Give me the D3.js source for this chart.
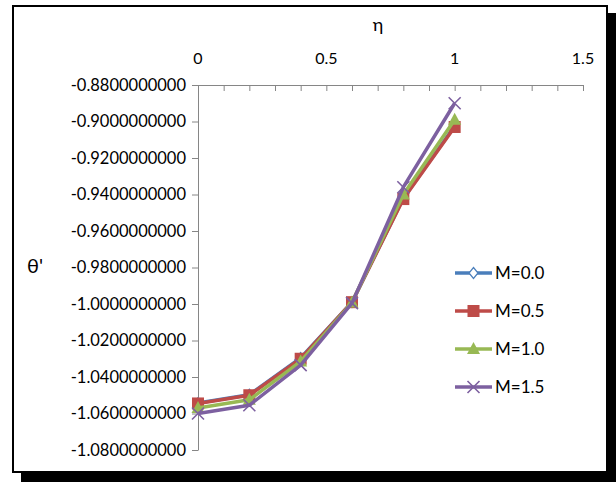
<!DOCTYPE html>
<html>
<head>
<meta charset="utf-8">
<script src="https://cdn.jsdelivr.net/npm/d3@7"></script>
<style>
  html, body { margin: 0; padding: 0; background: #fff; }
  svg { display: block; }
  text { font-family: Lato, "Liberation Sans", sans-serif; fill: #000; }
</style>
</head>
<body>
<svg id="chart" width="616" height="482"></svg>
<script>
// η positions along the plate
const etaValues = [0, 0.2, 0.4, 0.6, 0.8, 1.0];

// θ' for each magnetic parameter M
const seriesNames = ["M=0.0", "M=0.5", "M=1.0", "M=1.5"];
const thetaM00 = [-1.0543, -1.0497, -1.0296, -0.9990, -0.9420, -0.9025];
const thetaM05 = [-1.0545, -1.0500, -1.0300, -0.9990, -0.9425, -0.9030];
const thetaM10 = [-1.0570, -1.0525, -1.0315, -0.9992, -0.9400, -0.8990];
const thetaM15 = [-1.0600, -1.0555, -1.0335, -0.9995, -0.9360, -0.8900];

const seriesColors = ["#4a7ebb", "#be4b48", "#98b954", "#7d60a0"];
const markerTypes = ["diamond", "square", "triangle", "cross"];

const xTickLabels = [0, 0.5, 1, 1.5];
const yTickValues = [-0.88, -0.90, -0.92, -0.94, -0.96, -0.98, -1.00, -1.02, -1.04, -1.06, -1.08];

const series = [thetaM00, thetaM05, thetaM10, thetaM15].map((vals, i) => ({
  name: seriesNames[i],
  color: seriesColors[i],
  marker: markerTypes[i],
  points: etaValues.map((e, j) => ({ x: e, y: vals[j] }))
}));

const svg = d3.select("#chart");

// Drop shadow and frame
svg.append("rect").attr("x", 21).attr("y", 13).attr("width", 595).attr("height", 469).attr("fill", "#000");
svg.append("rect").attr("x", 13).attr("y", 6).attr("width", 594).attr("height", 466)
  .attr("fill", "#fff").attr("stroke", "#000").attr("stroke-width", 2);

const x = d3.scaleLinear().domain([0, 1.5]).range([198, 583]);
const y = d3.scaleLinear().domain([-0.88, -1.08]).range([85, 450]);

const axisColor = "#868686";

// Horizontal axis along the top edge (crosses at θ' = -0.88)
const xAxis = d3.axisTop(x)
  .tickValues(d3.range(0, 16).map(k => k / 10))
  .tickSizeInner(-6).tickSizeOuter(0)
  .tickFormat(() => "");
const gx = svg.append("g").attr("transform", `translate(0,${y(-0.88)})`).call(xAxis);
gx.select(".domain").attr("stroke", axisColor);
gx.selectAll(".tick line").attr("stroke", axisColor);

svg.append("g").selectAll("text").data(xTickLabels).join("text")
  .attr("x", d => x(d)).attr("y", 64)
  .attr("text-anchor", "middle").attr("font-size", 16)
  .text(d => String(d));

// Vertical axis at η = 0; plain hyphen for the sign
const fmt10 = v => (v < 0 ? "-" : "") + Math.abs(v).toFixed(10);
const yAxis = d3.axisLeft(y)
  .tickValues(yTickValues)
  .tickSizeInner(6).tickSizeOuter(0)
  .tickPadding(6)
  .tickFormat(fmt10);
const gy = svg.append("g").attr("transform", `translate(${x(0)},0)`).call(yAxis);
gy.select(".domain").attr("stroke", axisColor);
gy.selectAll(".tick line").attr("stroke", axisColor);
gy.selectAll(".tick text").attr("font-size", 16.5).attr("font-family", "Lato, 'Liberation Sans', sans-serif").attr("fill", "#000");

// Axis titles
svg.append("text").attr("x", 378).attr("y", 31).attr("text-anchor", "middle").attr("font-size", 18).text("η");
svg.append("text").attr("x", 35).attr("y", 273).attr("text-anchor", "middle").attr("font-size", 20).text("θ'");

// Marker drawing
function drawMarker(g, type, color, cx, cy) {
  if (type === "diamond") {
    g.append("path")
      .attr("d", `M${cx},${cy - 5.5}L${cx + 4.5},${cy}L${cx},${cy + 5.5}L${cx - 4.5},${cy}Z`)
      .attr("fill", "#fff").attr("stroke", color).attr("stroke-width", 1.2);
  } else if (type === "square") {
    g.append("rect").attr("x", cx - 6).attr("y", cy - 6).attr("width", 12).attr("height", 12)
      .attr("fill", color);
  } else if (type === "triangle") {
    g.append("path")
      .attr("d", `M${cx},${cy - 7}L${cx + 6.5},${cy + 5}L${cx - 6.5},${cy + 5}Z`)
      .attr("fill", color);
  } else if (type === "cross") {
    g.append("path")
      .attr("d", `M${cx - 6},${cy - 6}L${cx + 6},${cy + 6}M${cx - 6},${cy + 6}L${cx + 6},${cy - 6}`)
      .attr("stroke", color).attr("stroke-width", 1.6).attr("fill", "none");
  }
}

const line = d3.line().x(d => x(d.x)).y(d => y(d.y));
const plot = svg.append("g");

series.forEach(s => {
  const g = plot.append("g");
  g.append("path").datum(s.points).attr("d", line)
    .attr("fill", "none").attr("stroke", s.color).attr("stroke-width", 3.5)
    .attr("stroke-linejoin", "round");
  s.points.forEach(p => drawMarker(g, s.marker, s.color, x(p.x), y(p.y)));
});

// Legend
const legend = svg.append("g");
series.forEach((s, i) => {
  const ly = 273 + i * 38;
  const g = legend.append("g");
  g.append("line").attr("x1", 455).attr("x2", 492).attr("y1", ly).attr("y2", ly)
    .attr("stroke", s.color).attr("stroke-width", 3.5);
  drawMarker(g, s.marker, s.color, 473.5, ly);
  g.append("text").attr("x", 495).attr("y", ly + 6).attr("font-size", 17).text(s.name);
});
</script>
</body>
</html>
